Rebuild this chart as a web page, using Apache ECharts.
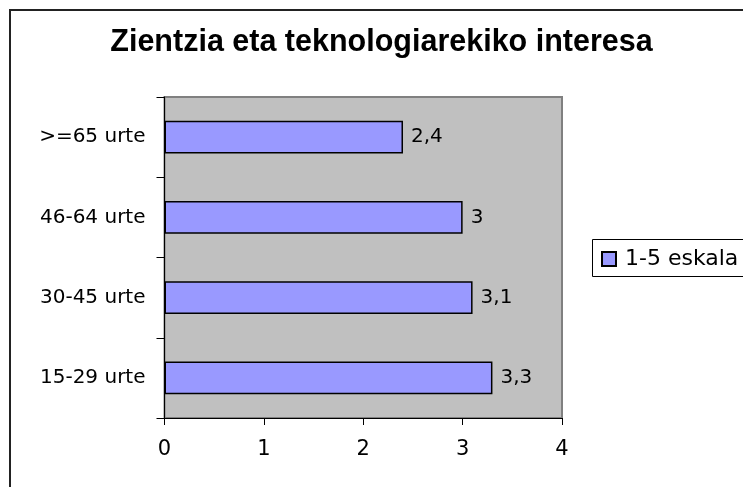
<!DOCTYPE html>
<html>
<head>
<meta charset="utf-8">
<script src="https://cdn.jsdelivr.net/npm/echarts@6/dist/echarts.min.js"></script>
<style>
html,body{margin:0;padding:0;background:#fff;}
#chart{width:743px;height:487px;}
</style>
</head>
<body>
<div id="chart"></div>
<script>
const titleText = 'Zientzia eta teknologiarekiko interesa';
const categories = ['15-29 urte', '30-45 urte', '46-64 urte', '>=65 urte'];
const values = [3.3, 3.1, 3.0, 2.4];
const seriesName = '1-5 eskala';
const xTicks = [0, 1, 2, 3, 4];

const chart = echarts.init(document.getElementById('chart'), null, {renderer: 'canvas'});
const regFont = 'DejaVu Sans';
chart.setOption({
  animation: false,
  backgroundColor: '#ffffff',
  title: {
    text: titleText,
    left: 381.5,
    top: 28,
    textAlign: 'center',
    padding: 0,
    textStyle: {fontFamily: 'Liberation Sans', fontWeight: 'bold', fontSize: 30.5, color: '#000', lineHeight: 30}
  },
  graphic: [{
    type: 'polyline',
    shape: {points: [[10, 800], [10, 10], [900, 10]]},
    style: {fill: 'none', stroke: '#222', lineWidth: 2},
    silent: true,
    z: 100
  }, {
    type: 'polyline',
    shape: {points: [[800, 239.5], [592.5, 239.5], [592.5, 276.5], [800, 276.5]]},
    style: {fill: 'none', stroke: '#000', lineWidth: 1},
    silent: true,
    z: 100
  }],
  legend: {
    left: 592,
    top: 239,
    padding: [9, 0, 9, 9],
    borderWidth: 0,
    icon: 'rect',
    itemWidth: 14,
    itemHeight: 14,
    textStyle: {fontFamily: regFont, fontSize: 22, color: '#000', padding: [0, 0, 0, 4]},
    data: [seriesName]
  },
  grid: {
    left: 164.5,
    right: 181,
    top: 97,
    bottom: 69,
    show: true,
    backgroundColor: '#c0c0c0',
    borderColor: '#808080',
    borderWidth: 2
  },
  xAxis: {
    type: 'value',
    min: 0,
    max: 4,
    interval: 1,
    splitLine: {show: false},
    axisLine: {show: true, lineStyle: {color: '#000', width: 1}},
    axisTick: {show: true, length: 7, lineStyle: {color: '#000'}},
    axisLabel: {
      fontFamily: regFont, fontSize: 21, color: '#000', margin: 22, lineHeight: 20,
      formatter: v => xTicks.includes(v) ? String(v) : ''
    }
  },
  yAxis: {
    type: 'category',
    data: categories,
    axisLine: {show: true, lineStyle: {color: '#000', width: 1}},
    axisTick: {show: true, length: 8, lineStyle: {color: '#000'}},
    axisLabel: {fontFamily: regFont, fontSize: 20, color: '#000', margin: 19}
  },
  series: [{
    name: seriesName,
    type: 'bar',
    data: values,
    barCategoryGap: '59%',
    itemStyle: {color: '#9999ff', borderColor: '#000', borderWidth: 1.5},
    label: {
      show: true,
      position: 'right',
      distance: 8,
      fontFamily: regFont,
      fontSize: 20,
      color: '#000',
      formatter: p => String(p.value).replace('.', ',')
    }
  }]
});
</script>
</body>
</html>
